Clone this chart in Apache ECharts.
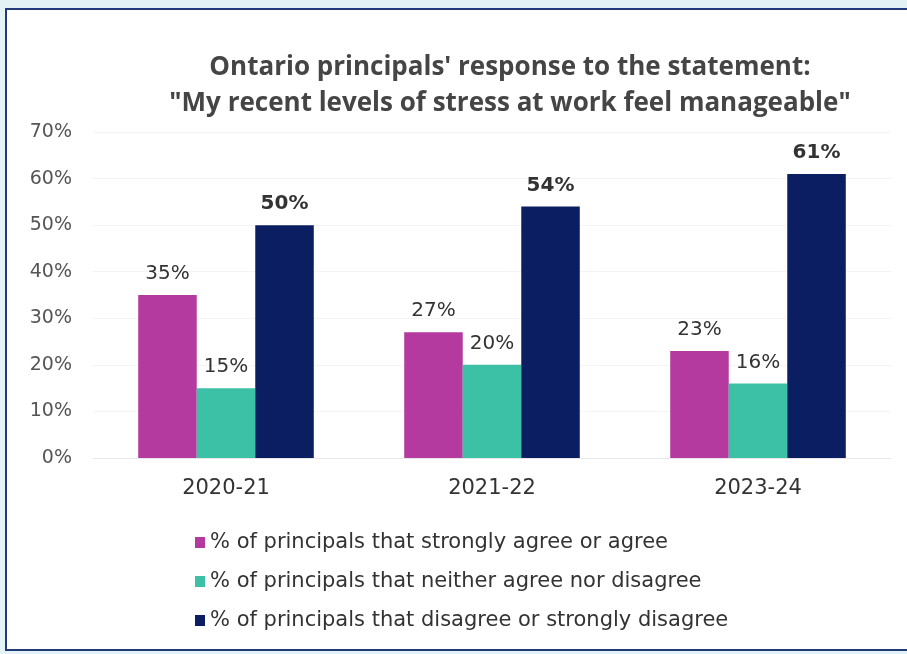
<!DOCTYPE html>
<html>
<head>
    <meta charset="utf-8">
    <script src="https://cdn.jsdelivr.net/npm/echarts@6/dist/echarts.min.js"></script>
    <style>
        html, body { margin: 0; padding: 0; background: #e3f2f4; }
    </style>
</head>
<body>
    <div id="main" style="width: 907px;height:654px;"></div>
    <script type="text/javascript">
        var years = ['2020-21', '2021-22', '2023-24'];
        var seriesNames = [
            '% of principals that strongly agree or agree',
            '% of principals that neither agree nor disagree',
            '% of principals that disagree or strongly disagree'
        ];
        var agree = [35, 27, 23];
        var neither = [15, 20, 16];
        var disagree = [50, 54, 61];
        var colors = ['#b43a9f', '#3cc0a6', '#0c1e62'];

        var myChart = echarts.init(document.getElementById('main'));
        var font = 'DejaVu Sans';

        function barSeries(name, data, color, bold) {
            return {
                name: name,
                type: 'bar',
                data: data,
                barGap: '0%',
                barCategoryGap: '34%',
                itemStyle: { color: color },
                label: {
                    show: true,
                    position: 'top',
                    distance: 11,
                    formatter: '{c}%',
                    fontFamily: font,
                    fontSize: 20,
                    fontWeight: bold ? 'bold' : 'normal',
                    color: '#333'
                }
            };
        }

        var option = {
            backgroundColor: '#e3f2f4',
            textStyle: { fontFamily: font },
            graphic: [{
                type: 'rect',
                z: -10,
                shape: { x: 6, y: 9, width: 920, height: 641 },
                style: { fill: '#ffffff', stroke: '#233a7a', lineWidth: 2 }
            }],
            title: {
                text: 'Ontario principals\' response to the statement:\n"My recent levels of stress at work feel manageable"',
                left: 505,
                textAlign: 'center',
                top: 45,
                textStyle: {
                    fontFamily: 'Open Sans',
                    fontSize: 26,
                    fontWeight: 'bold',
                    color: '#454545',
                    lineHeight: 36
                }
            },
            legend: {
                orient: 'vertical',
                left: 190,
                top: 527,
                itemGap: 18,
                itemWidth: 10,
                itemHeight: 11,
                icon: 'rect',
                textStyle: { fontSize: 21, color: '#333', fontFamily: font },
                data: seriesNames
            },
            grid: { left: 93, right: 16, top: 132, bottom: 196 },
            xAxis: {
                type: 'category',
                data: years,
                axisLine: { show: true, lineStyle: { color: '#e8e8e8' } },
                axisTick: { show: false },
                axisLabel: { fontSize: 21, color: '#333', margin: 20, fontFamily: font }
            },
            yAxis: {
                type: 'value',
                min: 0,
                max: 70,
                interval: 10,
                axisLabel: { formatter: '{value}%', fontSize: 19, color: '#555', margin: 21, fontFamily: font },
                splitLine: { lineStyle: { color: '#f4f4f4' } }
            },
            series: [
                barSeries(seriesNames[0], agree, colors[0], false),
                barSeries(seriesNames[1], neither, colors[1], false),
                barSeries(seriesNames[2], disagree, colors[2], true)
            ]
        };
        myChart.setOption(option);
    </script>
</body>
</html>
